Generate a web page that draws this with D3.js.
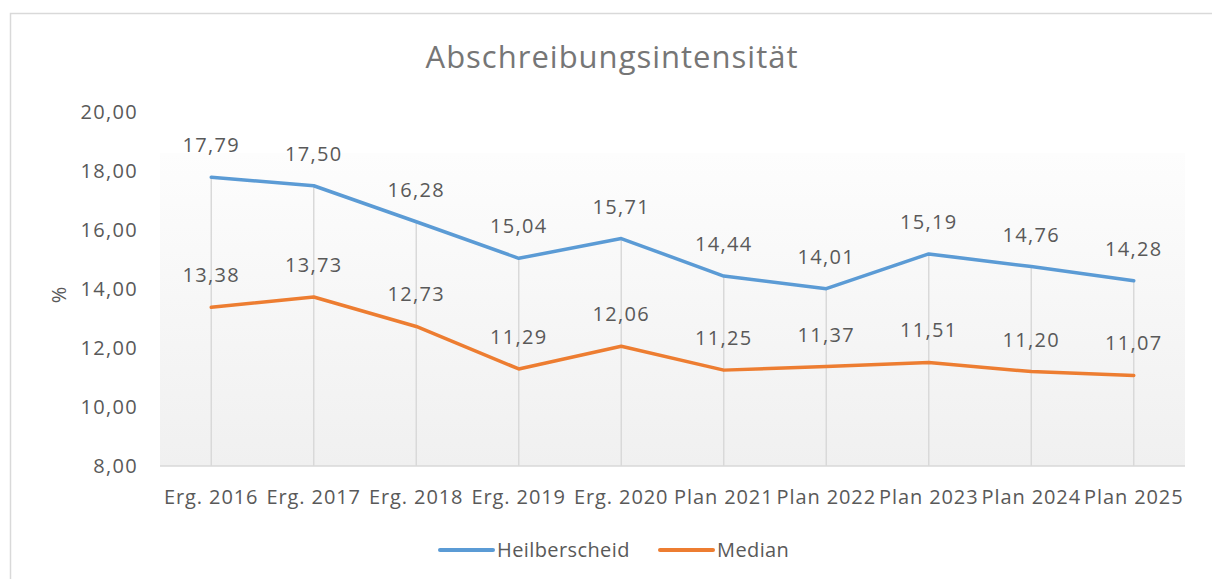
<!DOCTYPE html>
<html>
<head>
<meta charset="utf-8">
<script src="https://cdn.jsdelivr.net/npm/d3@7"></script>
<style>
  body { margin: 0; background: #fff; }
  text { font-family: "Open Sans", "Liberation Sans", sans-serif; fill: #595959; }
</style>
</head>
<body>
<div id="chart"></div>
<script>
const categories = ["Erg. 2016", "Erg. 2017", "Erg. 2018", "Erg. 2019", "Erg. 2020",
                    "Plan 2021", "Plan 2022", "Plan 2023", "Plan 2024", "Plan 2025"];
const heilberscheid = [17.79, 17.50, 16.28, 15.04, 15.71, 14.44, 14.01, 15.19, 14.76, 14.28];
const median = [13.38, 13.73, 12.73, 11.29, 12.06, 11.25, 11.37, 11.51, 11.20, 11.07];
const yTicks = [8, 10, 12, 14, 16, 18, 20];

const series = [
  { name: "Heilberscheid", values: heilberscheid, color: "#5b9bd5" },
  { name: "Median", values: median, color: "#ed7d31" }
];

const W = 1212, H = 579;
const plotL = 160, plotR = 1185, plotT = 112, plotB = 466;

const svg = d3.select("#chart").append("svg")
  .attr("width", W)
  .attr("height", H);

// chart border (runs off the bottom/right of the screenshot)
svg.append("path")
  .attr("d", `M10.5,${H} V13.5 H${W}`)
  .attr("fill", "none")
  .attr("stroke", "#d9d9d9")
  .attr("stroke-width", 1.5);

const fmt = v => d3.format(".2f")(v).replace(".", ",");

const x = d3.scaleBand().domain(categories).range([plotL, plotR]).padding(0);
const y = d3.scaleLinear().domain([8, 20]).range([plotB, plotT]);
const cx = d => x(d) + x.bandwidth() / 2;

// plot area gradient
const grad = svg.append("defs").append("linearGradient")
  .attr("id", "bg").attr("x1", 0).attr("y1", 0).attr("x2", 0).attr("y2", 1);
grad.append("stop").attr("offset", "0%").attr("stop-color", "#fdfdfd");
grad.append("stop").attr("offset", "100%").attr("stop-color", "#f0f0f0");

svg.append("rect")
  .attr("x", plotL).attr("y", 153)
  .attr("width", plotR - plotL).attr("height", plotB - 153)
  .attr("fill", "url(#bg)");

// title
svg.append("text")
  .attr("x", 612).attr("y", 68)
  .attr("text-anchor", "middle")
  .style("font-size", "31px")
  .style("letter-spacing", "1px")
  .style("fill", "#767676")
  .text("Abschreibungsintensität");

// y axis labels
svg.append("g").selectAll("text")
  .data(yTicks).enter()
  .append("text")
  .attr("x", 138)
  .attr("y", d => y(d) + 7)
  .attr("text-anchor", "end")
  .style("font-size", "20px")
  .style("letter-spacing", "1.3px")
  .text(fmt);

svg.append("text")
  .attr("transform", `translate(66,${(plotT + plotB) / 2 + 6}) rotate(-90)`)
  .attr("text-anchor", "middle")
  .style("font-size", "20px")
  .text("%");

// drop lines from the highest point to the axis
svg.append("g").selectAll("line")
  .data(categories).enter()
  .append("line")
  .attr("x1", cx).attr("x2", cx)
  .attr("y1", (d, i) => y(d3.max(series, s => s.values[i])))
  .attr("y2", plotB)
  .attr("stroke", "#d9d9d9")
  .attr("stroke-width", 1.5);

// x axis line
svg.append("line")
  .attr("x1", plotL).attr("x2", plotR)
  .attr("y1", plotB).attr("y2", plotB)
  .attr("stroke", "#d9d9d9")
  .attr("stroke-width", 1.5);

// x labels
svg.append("g").selectAll("text")
  .data(categories).enter()
  .append("text")
  .attr("x", cx)
  .attr("y", 504)
  .attr("text-anchor", "middle")
  .style("font-size", "20px")
  .style("letter-spacing", "0.9px")
  .text(d => d);

// lines
const line = d3.line()
  .x((d, i) => cx(categories[i]))
  .y(d => y(d));

series.forEach(s => {
  svg.append("path")
    .datum(s.values)
    .attr("d", line)
    .attr("fill", "none")
    .attr("stroke", s.color)
    .attr("stroke-width", 3.5)
    .attr("stroke-linejoin", "round")
    .attr("stroke-linecap", "round");

  svg.append("g").selectAll("text")
    .data(s.values).enter()
    .append("text")
    .attr("x", (d, i) => cx(categories[i]))
    .attr("y", d => y(d) - 25)
    .attr("text-anchor", "middle")
    .style("font-size", "20px")
    .style("letter-spacing", "1.3px")
    .text(fmt);
});

// legend
const legendX = [440, 660];
series.forEach((s, i) => {
  const g = svg.append("g").attr("transform", `translate(${legendX[i]},550)`);
  g.append("line")
    .attr("x1", 0).attr("x2", 53)
    .attr("stroke", s.color)
    .attr("stroke-width", 4)
    .attr("stroke-linecap", "round");
  g.append("text")
    .attr("x", 57).attr("y", 7)
    .style("font-size", "20px")
    .style("letter-spacing", "0.4px")
    .text(s.name);
});
</script>
</body>
</html>
